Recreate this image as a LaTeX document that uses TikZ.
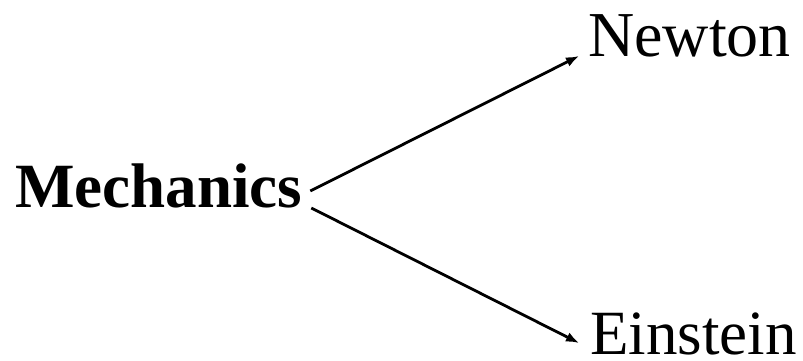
\documentclass[tikz,border=0pt]{standalone}
\usepackage{fontspec}
\setmainfont{Liberation Serif}
\usetikzlibrary{arrows.meta}
\begin{document}
\begin{tikzpicture}[x=1pt,y=1pt,
  lbl/.style={inner sep=0pt, anchor=base west, font=\fontsize{64}{70}\selectfont},
  arr/.style={line width=2.8pt, -{Latex[length=13pt,width=10pt]}}]
\useasboundingbox (0,0) rectangle (803,361);
\node[lbl, font=\fontsize{63}{70}\selectfont\bfseries] (m) at (15,153) {Mechanics};
\node[lbl] (n) at (588,304) {Newton};
\node[lbl, font=\fontsize{63}{70}\selectfont] (e) at (590,6) {Einstein};
\draw[arr] ([xshift=8pt,yshift=17pt]m.base east) -- ([xshift=-9pt,yshift=1pt]n.base west);
\draw[arr] ([xshift=9pt,yshift=0pt]m.base east) -- ([xshift=-11pt,yshift=12pt]e.base west);
\end{tikzpicture}
\end{document}
